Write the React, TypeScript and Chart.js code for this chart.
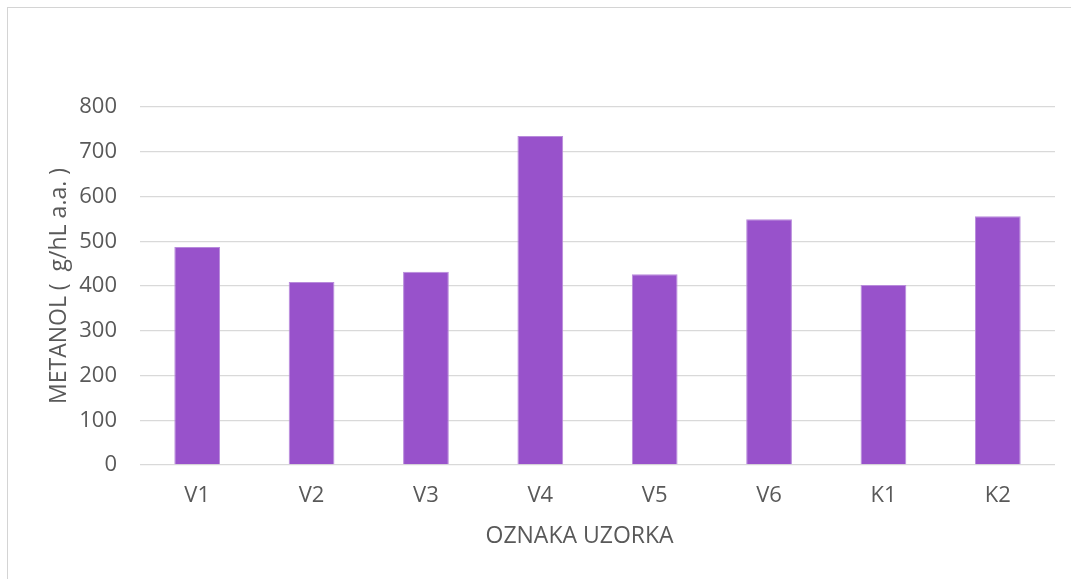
import React, { useEffect, useRef } from "react";
import { Chart, registerables } from "chart.js";

Chart.register(...registerables);

const categories = ["V1", "V2", "V3", "V4", "V5", "V6", "K1", "K2"];
const metanolValues = [487, 409, 432, 735, 426, 549, 402, 556];
const yTicks = [0, 100, 200, 300, 400, 500, 600, 700, 800];
const yTitle = "METANOL (  g/hL a.a. )";
const xTitle = "OZNAKA UZORKA";

const FONT = "'Open Sans', 'DejaVu Sans', sans-serif";
const TEXT = "#595959";

export default function App() {
  const ref = useRef<HTMLCanvasElement | null>(null);

  useEffect(() => {
    if (!ref.current) return;
    const chart = new Chart(ref.current, {
      type: "bar",
      data: {
        labels: categories,
        datasets: [
          {
            label: "Metanol",
            data: metanolValues,
            backgroundColor: "#9852CB",
            borderColor: "#B88BDB",
            borderWidth: { left: 1, right: 1, top: 1, bottom: 0 },
            barPercentage: 0.4,
            categoryPercentage: 1,
          },
        ],
      },
      options: {
        responsive: false,
        animation: false,
        maintainAspectRatio: false,
        layout: { padding: { top: 99, right: 15, bottom: 0, left: 0 } },
        plugins: {
          legend: { display: false },
          tooltip: { enabled: false },
        },
        scales: {
          x: {
            grid: { display: false, drawTicks: false },
            border: { display: false },
            ticks: {
              color: TEXT,
              font: { family: FONT, size: 22 },
              padding: 18,
            },
            title: {
              display: true,
              text: xTitle + "\u00a0\u00a0\u00a0\u00a0\u00a0\u00a0",
              color: TEXT,
              font: { family: FONT, size: 23 },
              padding: { top: 0, bottom: 28 },
            },
            afterFit: (scale: any) => {
              scale.height = 113;
            },
          },
          y: {
            min: 0,
            max: 800,
            afterBuildTicks: (scale: any) => {
              scale.ticks = yTicks.map((v) => ({ value: v }));
            },
            grid: { color: "#D9D9D9", lineWidth: 1.3, drawTicks: false },
            border: { display: false },
            ticks: {
              color: TEXT,
              font: { family: FONT, size: 22 },
              padding: 23,
            },
            title: {
              display: true,
              text: yTitle,
              color: TEXT,
              font: { family: FONT, size: 23 },
              padding: { top: 38, bottom: 0 },
            },
            afterFit: (scale: any) => {
              scale.width = 132;
            },
          },
        },
      },
    });
    return () => chart.destroy();
  }, []);

  return (
    <div
      style={{
        position: "absolute",
        left: 7,
        top: 7,
        width: 1064,
        height: 572,
        borderLeft: "1px solid #D4D4D4",
        borderTop: "1px solid #D4D4D4",
        boxSizing: "border-box",
        background: "#fff",
      }}
    >
      <canvas ref={ref} width={1062} height={570} style={{ display: "block" }} />
    </div>
  );
}
